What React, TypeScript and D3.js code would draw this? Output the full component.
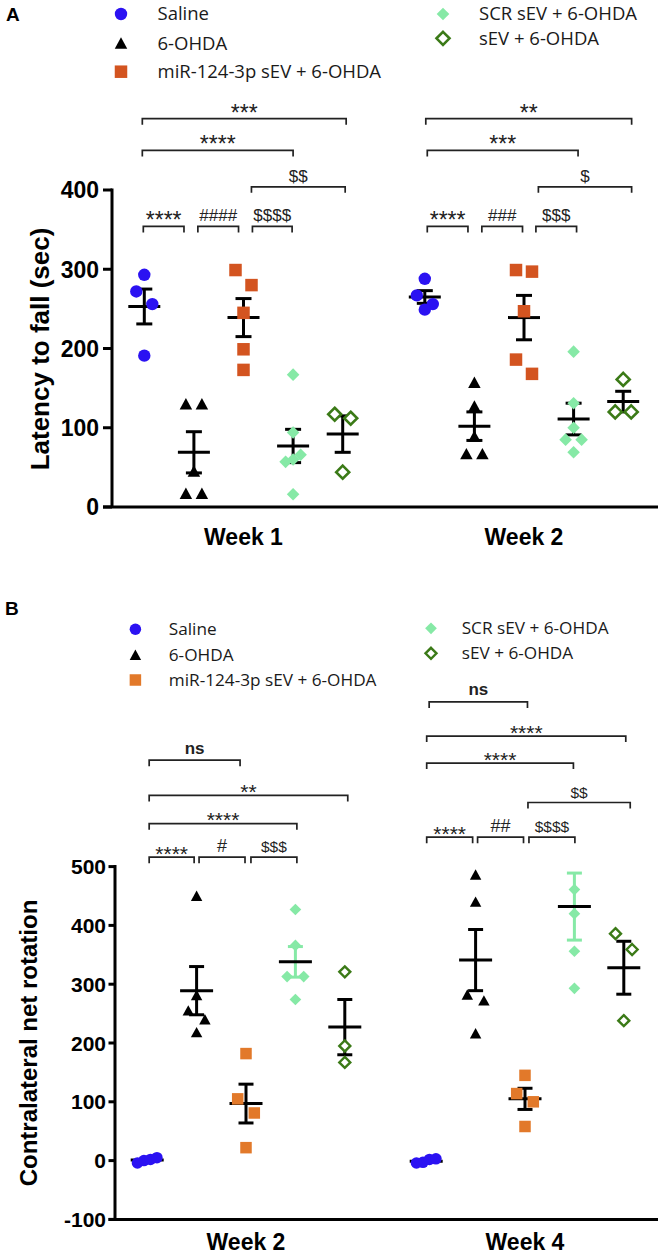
import React from 'react';
import * as d3 from 'd3';

// ---------- shared categories ----------
const groupNames = ['Saline', '6-OHDA', 'miR-124-3p sEV + 6-OHDA', 'SCR sEV + 6-OHDA', 'sEV + 6-OHDA'];
const groupShapes = ['circle', 'triangle', 'square', 'diamond', 'hollowDiamond'];

// ---------- Panel A: Latency to fall (sec) ----------
const weeksA = ['Week 1', 'Week 2'];
const ticksA = [0, 100, 200, 300, 400];
const latencyWeek1 = [
  [293, 272, 256, 191],
  [130, 130, 45, 17, 17],
  [299, 280, 245, 199, 173],
  [167, 94, 66, 60, 57, 16],
  [117, 112, 44],
];
const latencyWeek2 = [
  [288, 267, 256, 249],
  [157, 127, 89, 67, 67],
  [297, 299, 247, 186, 168],
  [196, 131, 100, 85, 85, 69],
  [161, 120, 120],
];
const latencyMeanWeek1 = [253, 69, 239, 77, 92];
const latencySemWeek1 = [22, 26, 24, 21, 23];
const latencyMeanWeek2 = [265, 102, 239, 111, 133];
const latencySemWeek2 = [8, 18, 28, 20, 13];

// ---------- Panel B: Contralateral net rotation ----------
const weeksB = ['Week 2', 'Week 4'];
const ticksB = [-100, 0, 100, 200, 300, 400, 500];
const rotationWeek2 = [
  [0, -4, 2, 5],
  [450, 281, 255, 240, 218],
  [182, 105, 81, 22],
  [427, 366, 313, 313, 274],
  [321, 195, 167],
];
const rotationWeek4 = [
  [-3, -4, 2, 3],
  [486, 440, 282, 272, 216],
  [145, 114, 100, 58],
  [461, 420, 356, 293],
  [386, 359, 238],
];
const rotationMeanWeek2 = [1, 289, 97, 338, 227];
const rotationSemWeek2 = [2, 41, 33, 26, 47];
const rotationMeanWeek4 = [-1, 341, 105, 432, 328];
const rotationSemWeek4 = [2, 52, 18, 57, 45];

// ---------- significance brackets (group-slot units, value units) ----------
type Bracket = { week: string; from: number; to: number; level: number; label: string };
const bracketsA: Bracket[] = [
  { week: 'Week 1', from: -0.04, to: 4.07, level: 490, label: '***' },
  { week: 'Week 1', from: -0.04, to: 3.0, level: 450, label: '****' },
  { week: 'Week 1', from: 2.16, to: 4.05, level: 404, label: '$$' },
  { week: 'Week 1', from: -0.02, to: 0.8, level: 354, label: '****' },
  { week: 'Week 1', from: 1.08, to: 1.9, level: 354, label: '####' },
  { week: 'Week 1', from: 2.18, to: 2.98, level: 354, label: '$$$$' },
  { week: 'Week 2', from: 0.02, to: 4.17, level: 490, label: '**' },
  { week: 'Week 2', from: 0.05, to: 3.09, level: 450, label: '***' },
  { week: 'Week 2', from: 2.29, to: 4.17, level: 404, label: '$' },
  { week: 'Week 2', from: 0.05, to: 0.87, level: 354, label: '****' },
  { week: 'Week 2', from: 1.15, to: 1.97, level: 354, label: '###' },
  { week: 'Week 2', from: 2.24, to: 3.06, level: 354, label: '$$$' },
];
const bracketsB: Bracket[] = [
  { week: 'Week 2', from: 0.04, to: 1.88, level: 681, label: 'ns' },
  { week: 'Week 2', from: 0.04, to: 4.06, level: 621, label: '**' },
  { week: 'Week 2', from: 0.04, to: 3.03, level: 573, label: '****' },
  { week: 'Week 2', from: 0.04, to: 0.95, level: 516, label: '****' },
  { week: 'Week 2', from: 1.05, to: 1.98, level: 516, label: '#' },
  { week: 'Week 2', from: 2.1, to: 3.03, level: 516, label: '$$$' },
  { week: 'Week 4', from: 0.06, to: 2.05, level: 780, label: 'ns' },
  { week: 'Week 4', from: 0.01, to: 4.04, level: 722, label: '****' },
  { week: 'Week 4', from: 0.01, to: 2.98, level: 676, label: '****' },
  { week: 'Week 4', from: 2.06, to: 4.13, level: 609, label: '$$' },
  { week: 'Week 4', from: 0.01, to: 0.94, level: 550, label: '****' },
  { week: 'Week 4', from: 1.04, to: 1.97, level: 550, label: '##' },
  { week: 'Week 4', from: 2.08, to: 3.01, level: 550, label: '$$$$' },
];

const ARIAL = "'Liberation Sans', Arial, Helvetica, sans-serif";
const LEGEND_FONT = "'Open Sans', 'Liberation Sans', sans-serif";

const BLUE = '#2b12f2';
const GREEN_LIGHT = '#86e9a6';
const GREEN_DARK = '#3b7a17';

function Marker({ shape, x, y, color, size, hollowStroke }: any) {
  const h = size / 2;
  if (shape === 'circle') return <circle cx={x} cy={y} r={h} fill={color} />;
  if (shape === 'square') return <rect x={x - h} y={y - h} width={size} height={size} fill={color} />;
  if (shape === 'triangle')
    return (
      <path
        d={`M${x},${y - size * 0.5}L${x + size * 0.52},${y + size * 0.45}L${x - size * 0.52},${y + size * 0.45}Z`}
        fill={color}
      />
    );
  if (shape === 'diamond')
    return <path d={`M${x},${y - h}L${x + h},${y}L${x},${y + h}L${x - h},${y}Z`} fill={color} />;
  // hollow diamond
  return (
    <path
      d={`M${x},${y - h}L${x + h},${y}L${x},${y + h}L${x - h},${y}Z`}
      fill="#fff"
      stroke={color}
      strokeWidth={hollowStroke}
    />
  );
}

// GraphPad-like horizontal spreading of overlapping points
function spread(values: number[], yScale: (v: number) => number, T: number, d: number, size: number) {
  const idx = values.map((v, i) => i).sort((a, b) => yScale(values[a]) - yScale(values[b]));
  const off = new Array(values.length).fill(0);
  let cluster: number[] = [];
  const flush = () => {
    const n = cluster.length;
    if (n === 2) {
      off[cluster[0]] = -d;
      off[cluster[1]] = d;
    } else if (n > 2) {
      const span = yScale(values[cluster[n - 1]]) - yScale(values[cluster[0]]);
      if (span < size) {
        const sp = n >= 4 ? 6.5 : 7.5;
        const byVal = [...cluster].sort((a, b) => values[a] - values[b]);
        byVal.forEach((k, i) => (off[k] = (i - (n - 1) / 2) * sp));
      } else {
        const pat = [0, -d, d];
        cluster.forEach((k, i) => (off[k] = pat[i % 3]));
      }
    }
    cluster = [];
  };
  idx.forEach((k, i) => {
    if (i > 0 && yScale(values[k]) - yScale(values[idx[i - 1]]) >= T) flush();
    cluster.push(k);
  });
  flush();
  return off;
}

function Panel({ cfg }: any) {
  const y = d3.scaleLinear().domain(cfg.yDomain).range(cfg.yRange);
  const xw = d3.scalePoint<string>().domain(cfg.weeks).range(cfg.weekRange);
  const xs = d3.scaleLinear().domain([0, 4]).range([-cfg.slotHalf, cfg.slotHalf]);
  const gx = (w: string, s: number) => (xw(w) as number) + xs(s);
  const x0 = cfg.axisX;
  const yBottom = y(cfg.yDomain[0]);
  const yTop = y(cfg.yDomain[1]);

  const labelStyle = (label: string) => {
    if (label === 'ns') return { size: 17, weight: 'bold', dy: -6.5 };
    if (label.includes('*')) return { size: cfg.starFont, weight: 'normal', dy: cfg.starDy };
    if (label.includes('#')) return { size: cfg.hashFont, weight: 'normal', dy: -5 };
    return { size: cfg.dollarFont, weight: 'normal', dy: -5 };
  };

  return (
    <g>
      {/* y label */}
      <text
        transform={`translate(${cfg.yLabelX},${cfg.yLabelY}) rotate(-90)`}
        textAnchor="middle"
        fontFamily={ARIAL}
        fontWeight="bold"
        fontSize={cfg.yLabelFont}
        fill="#000"
      >
        {cfg.yLabel}
      </text>
      {/* axes */}
      <line x1={x0} x2={x0} y1={yTop - 1.5} y2={yBottom} stroke="#000" strokeWidth={3} />
      <line x1={x0 - cfg.tickLen} x2={cfg.axisRight} y1={yBottom} y2={yBottom} stroke="#000" strokeWidth={3} />
      {cfg.ticks.map((t: number) => (
        <g key={t}>
          <line x1={x0 - cfg.tickLen} x2={x0} y1={y(t)} y2={y(t)} stroke="#000" strokeWidth={3} />
          <text
            x={cfg.tickLabelX}
            y={y(t)}
            dy="0.36em"
            textAnchor="end"
            fontFamily={ARIAL}
            fontWeight="bold"
            fontSize={cfg.tickFont}
            fill="#000"
          >
            {t}
          </text>
        </g>
      ))}
      {cfg.weeks.map((w: string) => (
        <text
          key={w}
          x={xw(w)}
          y={cfg.weekLabelY}
          textAnchor="middle"
          fontFamily={ARIAL}
          fontWeight="bold"
          fontSize={cfg.weekFont}
          fill="#000"
        >
          {w}
        </text>
      ))}
      {/* error bars */}
      {cfg.weeks.map((w: string, wi: number) =>
        groupNames.map((g, gi) => {
          const cx = gx(w, gi);
          const m = cfg.means[wi][gi];
          const s = cfg.sems[wi][gi];
          const ec = cfg.errColors[gi];
          return (
            <g key={w + g + 'err'}>
              <line x1={cx} x2={cx} y1={y(m + s)} y2={y(m - s)} stroke={ec} strokeWidth={3} />
              <line x1={cx - cfg.capHalf} x2={cx + cfg.capHalf} y1={y(m + s)} y2={y(m + s)} stroke={ec} strokeWidth={3} />
              <line x1={cx - cfg.capHalf} x2={cx + cfg.capHalf} y1={y(m - s)} y2={y(m - s)} stroke={ec} strokeWidth={3} />
              <line x1={cx - cfg.meanHalf} x2={cx + cfg.meanHalf} y1={y(m)} y2={y(m)} stroke="#000" strokeWidth={3} />
            </g>
          );
        })
      )}
      {/* points */}
      {cfg.weeks.map((w: string, wi: number) =>
        groupNames.map((g, gi) => {
          const vals: number[] = cfg.values[wi][gi];
          const sz = cfg.markerSizes[gi];
          const off = spread(vals, y, cfg.clusterT, cfg.pairD, 12);
          return vals.map((v, k) => (
            <Marker
              key={w + g + k}
              shape={groupShapes[gi]}
              x={gx(w, gi) + off[k]}
              y={y(v)}
              color={cfg.colors[gi]}
              size={sz}
              hollowStroke={cfg.hollowStroke}
            />
          ));
        })
      )}
      {/* brackets */}
      {cfg.brackets.map((b: Bracket, i: number) => {
        const xa = gx(b.week, b.from);
        const xb = gx(b.week, b.to);
        const yy = y(b.level);
        const st = labelStyle(b.label);
        return (
          <g key={'br' + i}>
            <path
              d={`M${xa},${yy + 6}V${yy}H${xb}V${yy + 6}`}
              fill="none"
              stroke="#222"
              strokeWidth={1.7}
            />
            <text
              x={(xa + xb) / 2}
              y={yy + st.dy}
              textAnchor="middle"
              fontFamily={ARIAL}
              fontWeight={st.weight}
              fontSize={st.size}
              fill="#222"
            >
              {b.label}
            </text>
          </g>
        );
      })}
    </g>
  );
}

function Legend({ cfg }: any) {
  return (
    <g>
      <text x={cfg.panelX} y={cfg.panelY} fontFamily={ARIAL} fontWeight="bold" fontSize={19} fill="#000">
        {cfg.panel}
      </text>
      {groupNames.map((g, gi) => {
        const pos = cfg.positions[gi];
        return (
          <g key={g}>
            <Marker
              shape={groupShapes[gi]}
              x={pos[0]}
              y={pos[1]}
              color={cfg.colors[gi]}
              size={cfg.markerSizes[gi]}
              hollowStroke={cfg.hollowStroke}
            />
            <text
              x={pos[2]}
              y={pos[1]}
              dy="0.35em"
              fontFamily={LEGEND_FONT}
              fontSize={cfg.fontSize}
              fill="#1a1a1a"
            >
              {g}
            </text>
          </g>
        );
      })}
    </g>
  );
}

const colorsA = [BLUE, '#000', '#d35420', GREEN_LIGHT, GREEN_DARK];
const colorsB = [BLUE, '#000', '#e2792a', GREEN_LIGHT, GREEN_DARK];

const panelA = {
  yDomain: [0, 400],
  yRange: [507, 190],
  weeks: weeksA,
  weekRange: [243.5, 524],
  slotHalf: 99.2,
  axisX: 112,
  axisRight: 658,
  tickLen: 9,
  tickLabelX: 99,
  tickFont: 23,
  ticks: ticksA,
  weekLabelY: 545,
  weekFont: 23,
  yLabel: 'Latency to fall (sec)',
  yLabelX: 48.5,
  yLabelY: 349,
  yLabelFont: 26,
  values: [latencyWeek1, latencyWeek2],
  means: [latencyMeanWeek1, latencyMeanWeek2],
  sems: [latencySemWeek1, latencySemWeek2],
  colors: colorsA,
  errColors: ['#000', '#000', '#000', '#000', '#000'],
  markerSizes: [12.4, 12, 12.5, 12.6, 13],
  hollowStroke: 2.6,
  meanHalf: 16,
  capHalf: 8,
  clusterT: 18,
  pairD: 8,
  brackets: bracketsA,
  starFont: 23,
  starDy: 2,
  hashFont: 17,
  dollarFont: 17,
};

const panelB = {
  yDomain: [-100, 500],
  yRange: [1219.4, 866.6],
  weeks: weeksB,
  weekRange: [246, 525],
  slotHalf: 98.8,
  axisX: 115,
  axisRight: 658,
  tickLen: 6.5,
  tickLabelX: 106,
  tickFont: 21,
  ticks: ticksB,
  weekLabelY: 1250,
  weekFont: 23,
  yLabel: 'Contralateral net rotation',
  yLabelX: 37,
  yLabelY: 1043,
  yLabelFont: 24,
  values: [rotationWeek2, rotationWeek4],
  means: [rotationMeanWeek2, rotationMeanWeek4],
  sems: [rotationSemWeek2, rotationSemWeek4],
  colors: colorsB,
  errColors: ['#000', '#000', '#000', GREEN_LIGHT, '#000'],
  markerSizes: [11.5, 11, 11.5, 11.7, 11],
  hollowStroke: 2.4,
  meanHalf: 16.5,
  capHalf: 7.5,
  clusterT: 16,
  pairD: 8.3,
  brackets: bracketsB,
  starFont: 21,
  starDy: 3.5,
  hashFont: 18,
  dollarFont: 15.5,
};

const legendA = {
  panel: 'A',
  panelX: 6,
  panelY: 21,
  colors: colorsA,
  markerSizes: [12.4, 12, 12.5, 12.6, 13],
  hollowStroke: 2.6,
  fontSize: 18.5,
  positions: [
    [121, 14, 157.5],
    [121, 43.3, 157.5],
    [121, 71.7, 157.5],
    [443, 14, 479],
    [443, 38.3, 479],
  ],
};

const legendB = {
  panel: 'B',
  panelX: 5,
  panelY: 615,
  colors: colorsB,
  markerSizes: [11.5, 11, 11.5, 11.7, 11],
  hollowStroke: 2.4,
  fontSize: 17.2,
  positions: [
    [135.4, 629.3, 168.8],
    [135.4, 655, 168.8],
    [135.4, 680, 168.8],
    [431, 628.3, 461.7],
    [431, 653.3, 461.7],
  ],
};

export default function App() {
  return (
    <svg
      width={660}
      height={1254}
      viewBox="0 0 660 1254"
      style={{ position: 'absolute', left: 0, top: 0, background: '#fff' }}
    >
      <rect width={660} height={1254} fill="#fff" />
      <Legend cfg={legendA} />
      <Panel cfg={panelA} />
      <Legend cfg={legendB} />
      <Panel cfg={panelB} />
    </svg>
  );
}
